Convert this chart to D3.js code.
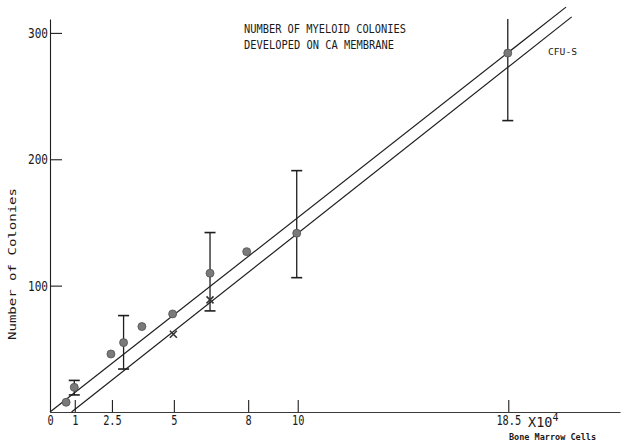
<!DOCTYPE html>
<html>
<head>
<meta charset="utf-8">
<script src="https://cdn.jsdelivr.net/npm/d3@7"></script>
<style>
  html, body { margin: 0; padding: 0; background: #fff; }
  svg { display: block; }
  text { font-family: "DejaVu Sans Mono", "Liberation Mono", monospace; fill: #1a1a1a; }
</style>
</head>
<body>
<svg id="chart" width="625" height="444"></svg>
<script>
// Colony counts (mean) against bone marrow cells plated (x 10^4)
const colonyCells  = [0.65, 0.98, 2.46, 2.97, 3.71, 4.95, 6.46, 7.94, 9.96, 18.48];
const colonyCounts = [7.7, 19.5, 45.9, 54.9, 67.6, 77.6, 109.8, 126.9, 141.5, 284];

// Second set of counts, drawn with "x" marks
const crossCells  = [4.98, 6.46];
const crossCounts = [61.5, 88.7];

// Ranges around the means
const barCells = [0.98, 2.97, 6.46, 9.96, 18.48];
const barLow   = [13.5, 34, 80, 106.3, 230.6];
const barHigh  = [25, 76.3, 142, 191, 338];

// The two fitted lines (end points)
const upperFitCells  = [0, 20.83];
const upperFitCounts = [0, 320.4];
const lowerFitCells  = [0.87, 21.06];
const lowerFitCounts = [0, 312.7];

// Axis ticks
const xTicks = [0, 1, 2.5, 5, 8, 10, 18.5];
const xTickLabels = ["0", "1", "2.5", "5", "8", "10", "18.5"];
const yTicks = [100, 200, 300];

const svg = d3.select("#chart");

const x = d3.scaleLinear().domain([0, 23.01]).range([50, 620]);
const y = d3.scaleLinear().domain([0, 311]).range([412, 19]);

const ink = "#1e1e1e";

// Y axis: ticks point inward (to the right)
const yAxis = svg.append("g")
  .attr("transform", `translate(${x(0)},0)`)
  .call(d3.axisLeft(y).tickValues(yTicks).tickSize(-12).tickSizeOuter(0).tickPadding(2).tickFormat(d3.format("d")));
yAxis.select(".domain").attr("stroke", ink).attr("stroke-width", 1.1);
yAxis.selectAll(".tick line").attr("stroke", ink).attr("stroke-width", 1.1);
yAxis.selectAll(".tick text")
  .attr("font-family", "DejaVu Sans Mono")
  .attr("font-size", 14)
  .attr("fill", ink)
  .attr("textLength", 20)
  .attr("lengthAdjust", "spacingAndGlyphs");

// X axis: ticks point upward
const xAxis = svg.append("g")
  .attr("transform", `translate(0,${y(0)})`)
  .call(d3.axisBottom(x).tickValues(xTicks).tickSize(-12).tickSizeOuter(0).tickPadding(3)
    .tickFormat((d, i) => xTickLabels[i]));
xAxis.select(".domain").attr("stroke", "#3a3a3a").attr("stroke-width", 1.1);
xAxis.selectAll(".tick line").attr("stroke", ink).attr("stroke-width", 1.1)
  .attr("opacity", d => d === 0 ? 0 : 1);
xAxis.selectAll(".tick text")
  .attr("font-family", "DejaVu Sans Mono")
  .attr("font-size", 13.5)
  .attr("fill", ink)
  .attr("textLength", (d, i) => xTickLabels[i].length * 6.2)
  .attr("lengthAdjust", "spacingAndGlyphs");

// Fitted lines
const line = d3.line().x(d => x(d[0])).y(d => y(d[1]));
svg.append("path")
  .attr("d", line(d3.zip(upperFitCells, upperFitCounts)))
  .attr("fill", "none").attr("stroke", ink).attr("stroke-width", 1.2);
svg.append("path")
  .attr("d", line(d3.zip(lowerFitCells, lowerFitCounts)))
  .attr("fill", "none").attr("stroke", ink).attr("stroke-width", 1.2);

// Range bars; a bar running past the top of the axis is cut there without a cap
const yMax = y.domain()[1];
const bars = svg.append("g");
barCells.forEach((c, i) => {
  const top = Math.min(barHigh[i], yMax);
  bars.append("line")
    .attr("x1", x(c)).attr("x2", x(c))
    .attr("y1", y(barLow[i])).attr("y2", y(top))
    .attr("stroke", ink).attr("stroke-width", 1.3);
  bars.append("line")
    .attr("x1", x(c) - 5.5).attr("x2", x(c) + 5.5)
    .attr("y1", y(barLow[i])).attr("y2", y(barLow[i]))
    .attr("stroke", ink).attr("stroke-width", 1.6);
  if (barHigh[i] <= yMax) {
    bars.append("line")
      .attr("x1", x(c) - 5.5).attr("x2", x(c) + 5.5)
      .attr("y1", y(barHigh[i])).attr("y2", y(barHigh[i]))
      .attr("stroke", ink).attr("stroke-width", 1.6);
  }
});

// Circles
svg.append("g").selectAll("circle")
  .data(d3.zip(colonyCells, colonyCounts))
  .join("circle")
  .attr("cx", d => x(d[0]))
  .attr("cy", d => y(d[1]))
  .attr("r", 4)
  .attr("fill", "#7a7a7a")
  .attr("stroke", "#505050")
  .attr("stroke-width", 0.8);

// Crosses
const s = 3.5;
svg.append("g").selectAll("path")
  .data(d3.zip(crossCells, crossCounts))
  .join("path")
  .attr("d", d => {
    const cx = x(d[0]), cy = y(d[1]);
    return `M${cx - s},${cy - s}L${cx + s},${cy + s}M${cx + s},${cy - s}L${cx - s},${cy + s}`;
  })
  .attr("stroke", "#333").attr("stroke-width", 1.6).attr("fill", "none");

// Title
svg.append("text")
  .attr("x", 244).attr("y", 33)
  .attr("font-size", 12.3)
  .attr("textLength", 162).attr("lengthAdjust", "spacingAndGlyphs")
  .text("NUMBER OF MYELOID COLONIES");
svg.append("text")
  .attr("x", 244).attr("y", 49)
  .attr("font-size", 12.3)
  .attr("textLength", 150).attr("lengthAdjust", "spacingAndGlyphs")
  .text("DEVELOPED ON CA MEMBRANE");

// Series label
svg.append("text")
  .attr("x", 548).attr("y", 55)
  .attr("font-size", 9.5)
  .attr("textLength", 29).attr("lengthAdjust", "spacingAndGlyphs")
  .text("CFU-S");

// Y axis title
svg.append("text")
  .attr("transform", "translate(16,264) rotate(-90)")
  .attr("text-anchor", "middle")
  .attr("font-size", 10)
  .attr("textLength", 152).attr("lengthAdjust", "spacingAndGlyphs")
  .text("Number of Colonies");

// Unit and x axis title
const unit = svg.append("text")
  .attr("x", 528).attr("y", 427)
  .attr("font-size", 13.5);
unit.append("tspan").text("X10");
unit.append("tspan").attr("font-size", 10).attr("dy", -6).text("4");

svg.append("text")
  .attr("x", 509).attr("y", 440)
  .attr("font-size", 9.5)
  .attr("font-weight", "bold")
  .attr("textLength", 87).attr("lengthAdjust", "spacingAndGlyphs")
  .text("Bone Marrow Cells");
</script>
</body>
</html>
